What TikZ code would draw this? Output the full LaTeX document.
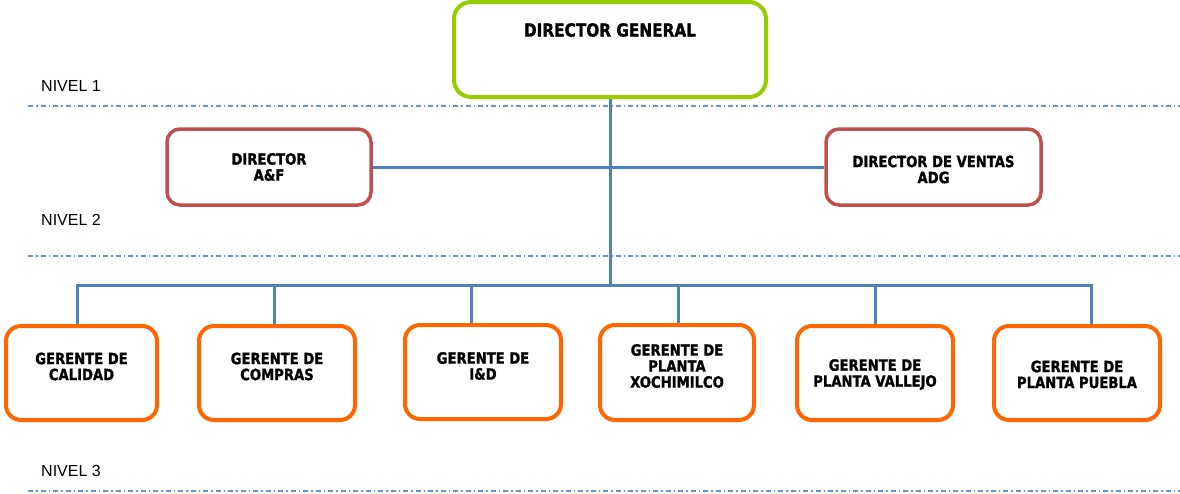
\documentclass[tikz,border=0pt]{standalone}
\usepackage{fontspec}
\usetikzlibrary{backgrounds}
\newfontfamily\boxfont[FakeStretch=0.85, BoldFeatures={FakeBold=1.2}]{DejaVu Sans}
\newfontfamily\lvlfont{Liberation Sans}
\definecolor{lnblue}{HTML}{4F81BD}
\definecolor{dggreen}{HTML}{99CC00}
\definecolor{dirred}{HTML}{C0504D}
\definecolor{mgrorange}{HTML}{FF6600}
\begin{document}
\begin{tikzpicture}[x=1pt,y=-1pt,
  box/.style={draw, fill=white, inner sep=0pt, anchor=center},
  dgbox/.style={box, draw=dggreen, line width=4pt, rounded corners=17pt},
  dirbox/.style={box, draw=dirred, line width=3.5pt, rounded corners=13pt},
  mgrbox/.style={box, draw=mgrorange, line width=4pt, rounded corners=15pt},
  boxtext/.style={font=\boxfont\bfseries\fontsize{15.5}{16}\selectfont, align=center, inner sep=0pt},
  dgtext/.style={font=\boxfont\bfseries\fontsize{18}{20}\selectfont, align=center, inner sep=0pt},
  lvltext/.style={font=\lvlfont\fontsize{16}{18}\selectfont, anchor=west, inner sep=0pt},
  lvlline/.style={draw=lnblue!85, line width=1.4pt, dash pattern=on 5pt off 3pt on 1.5pt off 3pt},
  link/.style={draw=lnblue, line width=3pt}
]
\useasboundingbox (0,0) rectangle (1180,493);

% level 1: general director
\node[dgbox, minimum width=312pt, minimum height=95pt] (dg) at (610,49.5) {};
\node[dgtext] (dgt) at (610,30) {DIRECTOR GENERAL};

% level 2: directors
\node[dirbox, minimum width=204pt, minimum height=76pt] (af) at (269,167) {};
\node[boxtext] (aft) at (269,167) {DIRECTOR\\A\&F};
\node[dirbox, minimum width=215pt, minimum height=76pt] (vt) at (933.5,167) {};
\node[boxtext] (vtt) at (933.5,169.5) {DIRECTOR DE VENTAS\\ADG};

% level 3: managers
\node[mgrbox, minimum width=151pt, minimum height=94pt] (g1) at (81.5,373) {};
\node[boxtext] (g1t) at (81.5,366.5) {GERENTE DE\\CALIDAD};
\node[mgrbox, minimum width=156pt, minimum height=94pt] (g2) at (277,373) {};
\node[boxtext] (g2t) at (277,366.5) {GERENTE DE\\COMPRAS};
\node[mgrbox, minimum width=156pt, minimum height=94pt] (g3) at (483,372) {};
\node[boxtext] (g3t) at (483,366) {GERENTE DE\\I\&D};
\node[mgrbox, minimum width=154pt, minimum height=95pt] (g4) at (677,372.5) {};
\node[boxtext] (g4t) at (677,366) {GERENTE DE\\PLANTA\\XOCHIMILCO};
\node[mgrbox, minimum width=156pt, minimum height=94pt] (g5) at (875,373) {};
\node[boxtext] (g5t) at (875,374.5) {GERENTE DE\\PLANTA VALLEJO};
\node[mgrbox, minimum width=166pt, minimum height=94pt] (g6) at (1077,373) {};
\node[boxtext] (g6t) at (1077,374.5) {GERENTE DE\\PLANTA PUEBLA};

% level labels
\node[lvltext] (n1) at (41,86) {NIVEL 1};
\node[lvltext] (n2) at (41,220) {NIVEL 2};
\node[lvltext] (n3) at (41,471) {NIVEL 3};

% level separators
\coordinate (l1a) at (28,106);  \coordinate (l1b) at (1180,106);
\coordinate (l2a) at (28,256);  \coordinate (l2b) at (1180,256);
\coordinate (l3a) at (28,491);  \coordinate (l3b) at (1180,491);

% bus and drop points
\coordinate (bus) at (610,285);
\coordinate (d1) at (77,285);
\coordinate (d2) at (274,285);
\coordinate (d3) at (471,285);
\coordinate (d4) at (678,285);
\coordinate (d5) at (875,285);
\coordinate (d6) at (1091,285);

\begin{scope}[on background layer]
  \draw[lvlline] (l1a) -- (l1b);
  \draw[lvlline] (l2a) -- (l2b);
  \draw[lvlline] (l3a) -- (l3b);
  \draw[link] (dg.south) -- (bus);
  \draw[link] (af.east) -- (vt.west);
  \draw[link] (d1 |- g1.north) -- (d1) -- (d6) -- (d6 |- g6.north);
  \draw[link] (d2) -- (d2 |- g2.north);
  \draw[link] (d3) -- (d3 |- g3.north);
  \draw[link] (d4) -- (d4 |- g4.north);
  \draw[link] (d5) -- (d5 |- g5.north);
\end{scope}
\end{tikzpicture}
\end{document}
